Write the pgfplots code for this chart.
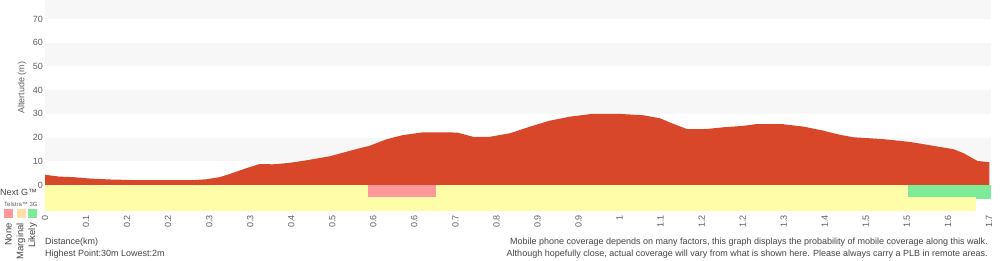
\documentclass[border=0pt]{standalone}
\usepackage{fontspec}
\setmainfont{Liberation Sans}
\usepackage{pgfplots}
\pgfplotsset{compat=1.18}
\definecolor{elev}{HTML}{D9472A}
\definecolor{band}{HTML}{F7F7F7}
\definecolor{covyellow}{HTML}{FFFDA8}
\definecolor{covpink}{HTML}{FF9999}
\definecolor{covgreen}{HTML}{7DEB98}
\definecolor{covpeach}{HTML}{FFDFA8}
\definecolor{labgray}{HTML}{5E5E5E}
\definecolor{txtgray}{HTML}{444444}
\begin{document}
\begin{tikzpicture}[x=1pt,y=1pt]
\useasboundingbox (0,0) rectangle (1000,260);
\begin{axis}[
  at={(45pt,49pt)}, anchor=south west,
  scale only axis, width=946pt, height=211pt,
  xmin=0, xmax=23.05, ymin=-11, ymax=78,
  axis line style={draw=none},
  major tick length=0pt,
  xtick={0,1,...,23},
  xticklabels={0,0.1,0.2,0.2,0.3,0.3,0.4,0.5,0.6,0.6,0.7,0.8,0.9,0.9,1,1.1,1.2,1.2,1.3,1.4,1.5,1.5,1.6,1.7},
  ytick={0,10,...,70},
  xticklabel style={rotate=90, anchor=east, font=\fontsize{9}{9}\selectfont, text=labgray, inner sep=4pt},
  yticklabel style={font=\fontsize{9}{9}\selectfont, text=labgray, inner sep=2pt},
  /pgf/number format/assume math mode=true,
  ylabel={Altertude (m)},
  ylabel style={at={(axis description cs:-0.0243,0.583)}, anchor=center, font=\fontsize{9}{9}\selectfont, text=labgray},
  clip=false,
]
% background bands
\fill[band] (axis cs:0,10) rectangle (axis cs:23.05,20);
\fill[band] (axis cs:0,30) rectangle (axis cs:23.05,40);
\fill[band] (axis cs:0,50) rectangle (axis cs:23.05,60);
\fill[band] (axis cs:0,70) rectangle (axis cs:23.05,78);
% elevation profile
\addplot[fill=elev, draw=none] coordinates {
(0,0) (0,4.3) (0.35,3.5) (0.67,3.3) (1.09,2.7) (1.57,2.3) (2.30,2.0) (3.60,2.0)
(3.94,2.4) (4.26,3.3) (4.57,5.0) (4.91,7.1) (5.23,8.8) (5.55,8.7) (5.96,9.3)
(6.38,10.4) (6.94,12.1) (7.35,14.0) (7.67,15.5) (7.91,16.5) (8.33,19.3) (8.72,21.0)
(9.21,22.2) (10.04,22.1) (10.43,20.3) (10.84,20.3) (11.33,21.8) (11.82,24.6)
(12.30,27.1) (12.79,28.8) (13.35,30.0) (13.94,30.0) (14.57,29.4) (14.99,28.1)
(15.23,26.3) (15.65,23.5) (16.13,23.6) (16.52,24.3) (17.01,24.9) (17.35,25.7)
(17.99,25.6) (18.48,24.6) (18.96,22.9) (19.38,21.1) (19.70,20.1) (20.43,19.3)
(21.09,18.1) (21.74,16.2) (22.13,15.1) (22.38,13.4) (22.72,10.1) (23.01,9.6) (23.01,0)
};
% Next G coverage row
\addplot[fill=covyellow, draw=none] coordinates {(0,0) (21.02,0) (21.02,-5.1) (0,-5.1)};
\addplot[fill=covpink, draw=none] coordinates {(7.88,0) (9.53,0) (9.53,-5.0) (7.88,-5.0)};
\addplot[fill=covgreen, draw=none] coordinates {(21.02,0) (23.05,0) (23.05,-5.8) (21.02,-5.8)};
% Telstra 3G coverage row
\addplot[fill=covyellow, draw=none] coordinates {(0,-5.1) (22.68,-5.1) (22.68,-11) (0,-11)};
\end{axis}
% left legend
\node[anchor=west, inner sep=0pt, font=\fontsize{9}{9}\selectfont, text=txtgray] at (0,68) {Next G™};
\node[anchor=west, inner sep=0pt, font=\fontsize{6}{6}\selectfont, text=labgray] at (4,55.5) {Telstra™ 3G};
\fill[covpink] (4,42) rectangle (13,51);
\fill[covpeach] (16.5,42) rectangle (25.5,51);
\fill[covgreen] (28,42) rectangle (37,51);
\node[rotate=90, anchor=east, inner sep=0pt, font=\fontsize{9.5}{9.5}\selectfont, text=txtgray] at (8.5,37) {None};
\node[rotate=90, anchor=east, inner sep=0pt, font=\fontsize{9.5}{9.5}\selectfont, text=txtgray] at (21,37) {Marginal};
\node[rotate=90, anchor=east, inner sep=0pt, font=\fontsize{9.5}{9.5}\selectfont, text=txtgray] at (32.7,37) {Likely};
% bottom texts
\node[anchor=west, inner sep=0pt, font=\fontsize{9}{9}\selectfont, text=txtgray] at (45,18) {Distance(km)};
\node[anchor=west, inner sep=0pt, font=\fontsize{9}{9}\selectfont, text=txtgray] at (45,6) {Highest Point:30m Lowest:2m};
\node[anchor=east, inner sep=0pt, font=\fontsize{9}{9}\selectfont, text=txtgray] at (988,18) {Mobile phone coverage depends on many factors, this graph displays the probability of mobile coverage along this walk.};
\node[anchor=east, inner sep=0pt, font=\fontsize{9}{9}\selectfont, text=txtgray] at (988,6) {Although hopefully close, actual coverage will vary from what is shown here. Please always carry a PLB in remote areas.};
\end{tikzpicture}
\end{document}
